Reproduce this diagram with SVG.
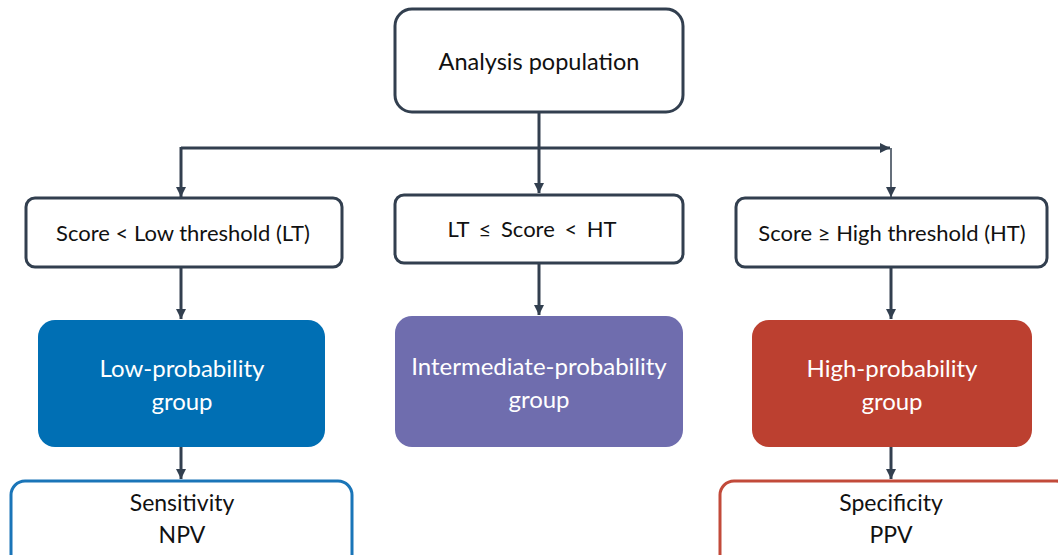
<svg xmlns="http://www.w3.org/2000/svg" width="1058" height="555" viewBox="0 0 1058 555">
<style>
.w{fill:#fff;stroke:#323f4f;stroke-width:3}
.t{font-family:Lato,"Open Sans",sans-serif;fill:#111;text-anchor:middle}
.tw{font-family:Lato,"Open Sans",sans-serif;fill:#fff;text-anchor:middle}
.c{fill:none;stroke:#323f4f;stroke-width:3}
</style>
<defs>
<marker id="a" viewBox="0 0 10 10" refX="10" refY="5" markerWidth="10" markerHeight="10" markerUnits="userSpaceOnUse" orient="auto">
<path d="M0,0L10,5L0,10z" fill="#323f4f"/>
</marker>
</defs>
<rect width="1058" height="555" fill="#fff"/>
<g id="connectors">
<path class="c" d="M539,112V193" marker-end="url(#a)"/>
<path class="c" d="M181,148H890" marker-end="url(#a)"/>
<path class="c" d="M181,147V197" marker-end="url(#a)"/>
<path class="c" style="stroke-width:1.5" d="M891,148V197" marker-end="url(#a)"/>
<path class="c" d="M181,267V319" marker-end="url(#a)"/>
<path class="c" d="M539,263V315" marker-end="url(#a)"/>
<path class="c" d="M891,267V319" marker-end="url(#a)"/>
<path class="c" d="M181,447V479" marker-end="url(#a)"/>
<path class="c" d="M891,447V479" marker-end="url(#a)"/>
</g>
<g id="top">
<rect class="w" x="395" y="9" width="288" height="103" rx="17"/>
<text class="t" x="539" y="70" font-size="23.5">Analysis population</text>
</g>
<g id="low-cond">
<rect class="w" x="26" y="198" width="316" height="69" rx="9"/>
<text class="t" x="183" y="241" font-size="22">Score &lt; Low threshold (LT)</text>
</g>
<g id="mid-cond">
<rect class="w" x="395" y="195" width="288" height="68" rx="9"/>
<text class="t" x="532" y="237" font-size="22" word-spacing="4">LT ≤ Score &lt; HT</text>
</g>
<g id="high-cond">
<rect class="w" x="736" y="198" width="311" height="69" rx="9"/>
<text class="t" x="892" y="241" font-size="22">Score ≥ High threshold (HT)</text>
</g>
<g id="low-group">
<rect x="38" y="320" width="287" height="127" rx="17" fill="#006fb4"/>
<text class="tw" x="182" y="377" font-size="24">Low-probability</text>
<text class="tw" x="182" y="410" font-size="24">group</text>
</g>
<g id="mid-group">
<rect x="395" y="316" width="288" height="131" rx="17" fill="#6f6dae"/>
<text class="tw" x="539" y="375" font-size="24">Intermediate-probability</text>
<text class="tw" x="539" y="408" font-size="24">group</text>
</g>
<g id="high-group">
<rect x="752" y="320" width="280" height="127" rx="17" fill="#bc4030"/>
<text class="tw" x="892" y="377" font-size="24">High-probability</text>
<text class="tw" x="892" y="410" font-size="24">group</text>
</g>
<g id="sens">
<rect x="11" y="481" width="341" height="90" rx="14" fill="#fff" stroke="#1a75b8" stroke-width="3"/>
<text class="t" x="182" y="511" font-size="23">Sensitivity</text>
<text class="t" x="182" y="543" font-size="23">NPV</text>
</g>
<g id="spec">
<rect x="720" y="481" width="350" height="90" rx="14" fill="#fff" stroke="#c24a3a" stroke-width="3"/>
<text class="t" x="891" y="511" font-size="23">Specificity</text>
<text class="t" x="891" y="543" font-size="23">PPV</text>
</g>
</svg>
